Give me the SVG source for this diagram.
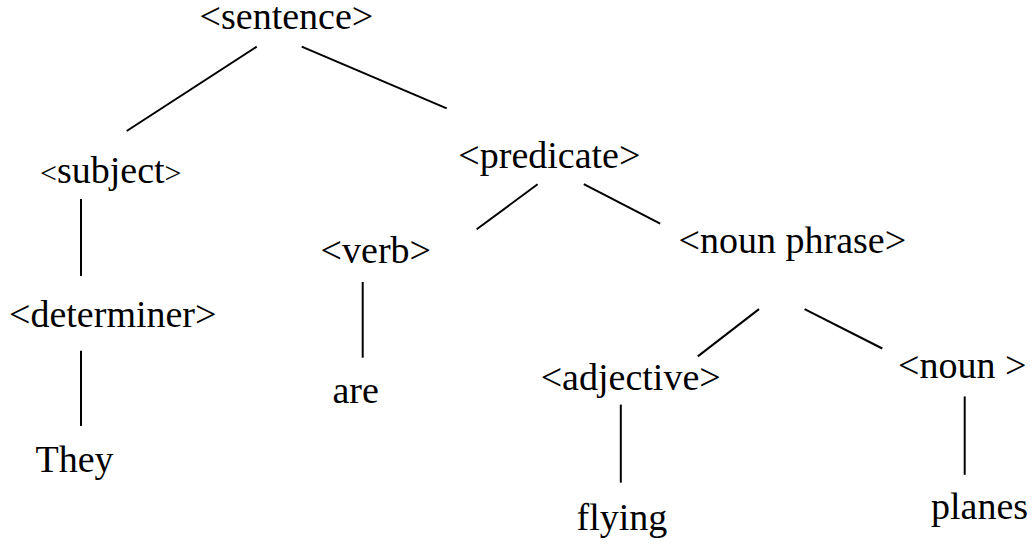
<svg xmlns="http://www.w3.org/2000/svg" width="1034" height="547" viewBox="0 0 1034 547">
  <style>
    .lbl { font-family: "Liberation Serif", "Times New Roman", serif; font-size: 38px; fill: #000; }
    .sm { font-size: 30px; }
    .edge { stroke: #000; stroke-width: 2; fill: none; }
  </style>
  <rect width="1034" height="547" fill="#fff"/>

  <!-- tree branches -->
  <g id="connectors">
    <line class="edge" x1="256.7" y1="46.7" x2="126.7" y2="131"/>
    <line class="edge" x1="301.7" y1="46.7" x2="446.7" y2="108.3"/>
    <line class="edge" x1="81" y1="199" x2="81" y2="276"/>
    <line class="edge" x1="81" y1="350.7" x2="81" y2="426"/>
    <line class="edge" x1="537.6" y1="184.2" x2="476.7" y2="229.3"/>
    <line class="edge" x1="583.8" y1="184.2" x2="660.2" y2="223.6"/>
    <line class="edge" x1="362.7" y1="282" x2="362.7" y2="357.7"/>
    <line class="edge" x1="759" y1="309.1" x2="697.8" y2="356.4"/>
    <line class="edge" x1="804.6" y1="309.1" x2="882.3" y2="348.5"/>
    <line class="edge" x1="620.8" y1="404.6" x2="620.8" y2="482.7"/>
    <line class="edge" x1="964.7" y1="396.4" x2="964.7" y2="474.8"/>
  </g>

  <!-- grammar nodes -->
  <g id="sentence"><text class="lbl" x="199.6" y="29.3">&lt;sentence&gt;</text></g>
  <g id="subject"><text class="lbl" x="40" y="182.7"><tspan class="sm">&lt;</tspan>subject<tspan class="sm">&gt;</tspan></text></g>
  <g id="predicate"><text class="lbl" x="458.3" y="168">&lt;predicate&gt;</text></g>
  <g id="determiner"><text class="lbl" x="9" y="326.7">&lt;determiner&gt;</text></g>
  <g id="verb"><text class="lbl" x="320.6" y="263.3">&lt;verb&gt;</text></g>
  <g id="noun-phrase"><text class="lbl" x="678.6" y="252.7">&lt;noun phrase&gt;</text></g>
  <g id="adjective"><text class="lbl" x="540.7" y="389.6">&lt;adjective&gt;</text></g>
  <g id="noun"><text class="lbl" x="898" y="377.6">&lt;noun &gt;</text></g>

  <!-- words -->
  <g id="they"><text class="lbl" x="35.5" y="471.7">They</text></g>
  <g id="are"><text class="lbl" x="332.5" y="403.3">are</text></g>
  <g id="flying"><text class="lbl" x="576.5" y="530">flying</text></g>
  <g id="planes"><text class="lbl" x="931" y="518.5">planes</text></g>
</svg>
